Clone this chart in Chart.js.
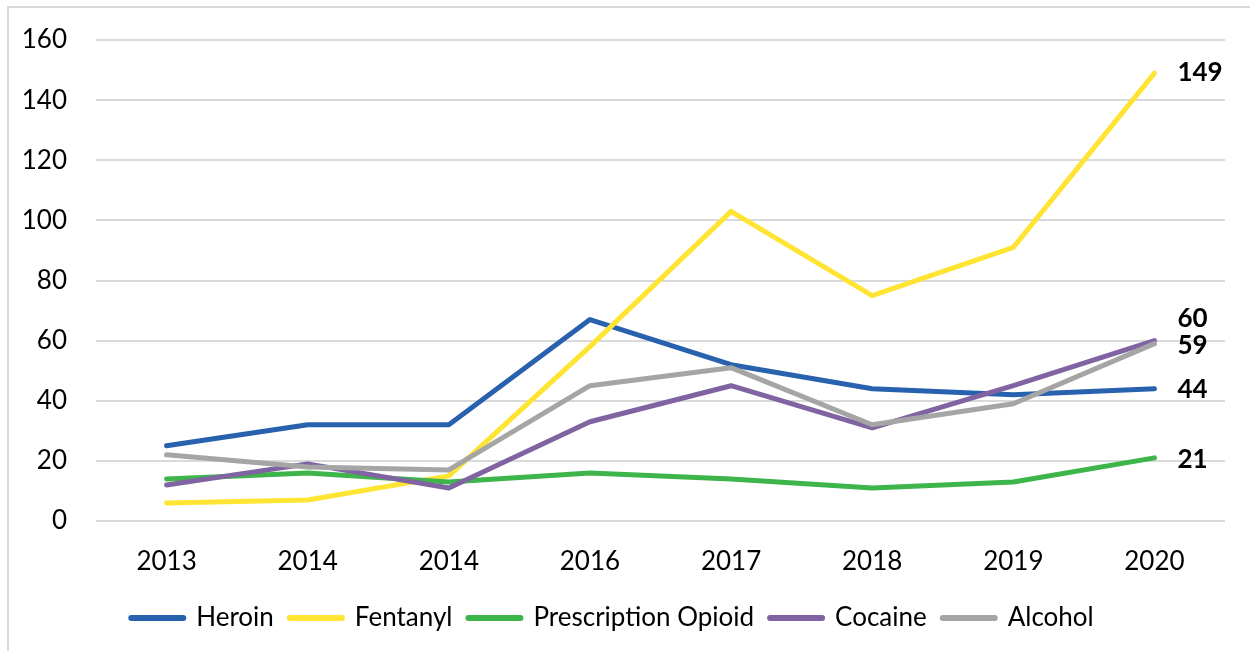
<!DOCTYPE html>
<html>
<head>
<meta charset="utf-8">
<script src="https://cdn.jsdelivr.net/npm/chart.js@4"></script>
<style>
  html, body { margin: 0; padding: 0; background: #fff; }
  #frame {
    position: absolute; left: 7px; top: 6px; width: 1300px; height: 700px;
    border-left: 2px solid #d9d9d9; border-top: 2px solid #d9d9d9;
  }
  #wrap { position: absolute; left: 0; top: 0; width: 1250px; height: 651px; }
</style>
</head>
<body>
<div id="frame"></div>
<div id="wrap"><canvas id="chart"></canvas></div>
<script>
// categories (the source repeats 2014)
const years = ['2013', '2014', '2014', '2016', '2017', '2018', '2019', '2020'];

const heroin = [25, 32, 32, 67, 52, 44, 42, 44];
const fentanyl = [6, 7, 15, 58, 103, 75, 91, 149];
const prescriptionOpioid = [14, 16, 13, 16, 14, 11, 13, 21];
const cocaine = [12, 19, 11, 33, 45, 31, 45, 60];
const alcohol = [22, 18, 17, 45, 51, 32, 39, 59];

const yTicks = [0, 20, 40, 60, 80, 100, 120, 140, 160];

const FONT = 'Lato, "Open Sans", sans-serif';

// label on the last point of each line
const endLabels = {
  id: 'endLabels',
  afterDatasetsDraw(chart) {
    const ctx = chart.ctx;
    ctx.save();
    ctx.font = 'bold 26px ' + FONT;
    ctx.fillStyle = '#000';
    ctx.textAlign = 'left';
    ctx.textBaseline = 'middle';
    chart.data.datasets.forEach((ds, i) => {
      const meta = chart.getDatasetMeta(i);
      const last = meta.data[meta.data.length - 1];
      const v = ds.data[ds.data.length - 1];
      ctx.fillText(String(v), last.x + 23, last.y + (ds.labelShift || 0));
    });
    ctx.restore();
  }
};

function line(label, data, color, order, shift) {
  return {
    label: label,
    data: data,
    borderColor: color,
    backgroundColor: color,
    borderWidth: 5,
    borderCapStyle: 'round',
    borderJoinStyle: 'round',
    pointRadius: 0,
    tension: 0,
    order: order,
    labelShift: shift
  };
}

new Chart(document.getElementById('chart'), {
  type: 'line',
  data: {
    labels: years,
    datasets: [
      line('Heroin', heroin, '#2862ae', 5, 1),
      line('Fentanyl', fentanyl, '#ffe433', 4, 0),
      line('Prescription Opioid', prescriptionOpioid, '#3db54a', 3, 2),
      line('Cocaine', cocaine, '#8064a2', 2, -22),
      line('Alcohol', alcohol, '#a5a5a5', 1, 2)
    ]
  },
  options: {
    responsive: true,
    maintainAspectRatio: false,
    animation: false,
    layout: { padding: { top: 40, right: 25, bottom: 10, left: 0 } },
    plugins: {
      tooltip: { enabled: false },
      legend: {
        position: 'bottom',
        labels: {
          usePointStyle: true,
          pointStyle: 'line',
          pointStyleWidth: 52,
          boxHeight: 26,
          padding: 16,
          color: '#000',
          font: { family: FONT, size: 26 },
          sort: (a, b) => a.datasetIndex - b.datasetIndex,
          generateLabels: (chart) => {
            const items = Chart.defaults.plugins.legend.labels.generateLabels(chart);
            items.forEach(it => { it.lineWidth = 6; it.lineCap = 'round'; });
            return items;
          }
        }
      }
    },
    scales: {
      x: {
        offset: true,
        afterFit: (s) => { s.height = 68; },
        grid: { display: false, drawTicks: false },
        border: { display: false },
        ticks: { color: '#000', font: { family: FONT, size: 26 }, padding: 25, maxRotation: 0, autoSkip: false }
      },
      y: {
        min: 0,
        max: 160,
        afterFit: (s) => { s.width = 96; s.paddingTop = 10; s.paddingBottom = 10; },
        afterBuildTicks: (s) => { s.ticks = yTicks.map(v => ({ value: v })); },
        grid: { color: '#d9d9d9', lineWidth: 2, drawTicks: false },
        border: { display: false },
        ticks: { color: '#000', font: { family: FONT, size: 26 }, padding: 29 }
      }
    }
  },
  plugins: [endLabels]
});
</script>
</body>
</html>
